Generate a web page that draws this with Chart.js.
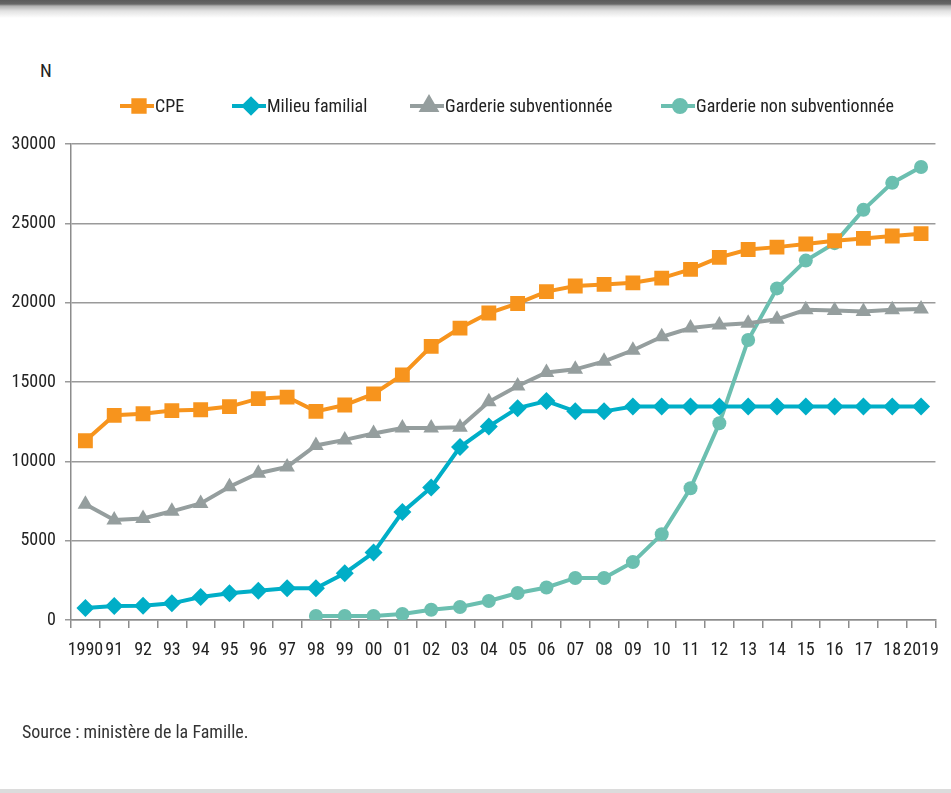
<!DOCTYPE html>
<html>
<head>
<meta charset="utf-8">
<script src="https://cdn.jsdelivr.net/npm/chart.js@4/dist/chart.umd.min.js"></script>
<style>
  body { margin: 0; background: #fff; width: 951px; height: 793px; overflow: hidden; position: relative;
         font-family: "Liberation Sans Narrow", "Roboto Condensed", "DejaVu Sans Condensed", sans-serif; }
  #topbar { position: absolute; left: 0; top: 0; width: 951px; height: 20px;
            background: linear-gradient(to bottom, #5a5a5a 0px, #666 4px, #b0b0b0 6px, #e2e2e2 11px, #ffffff 18px); }
  #botbar { position: absolute; left: 0; top: 789px; width: 951px; height: 4px; background: #dcdcdc; }
  #unit { position: absolute; left: 40px; top: 59px; font-size: 19px; color: #222; }
  #source { position: absolute; left: 22px; top: 721px; font-size: 18px; color: #333; }
  #wrap { position: absolute; left: 0; top: 0; width: 951px; height: 793px; }
</style>
</head>
<body>
<div id="topbar"></div>
<div id="unit">N</div>
<div id="wrap"><canvas id="garde"></canvas></div>
<div id="source">Source : ministère de la Famille.</div>
<div id="botbar"></div>
<script>
const annees = ["1990","91","92","93","94","95","96","97","98","99","00","01","02","03","04",
                "05","06","07","08","09","10","11","12","13","14","15","16","17","18","2019"];
const cpe = [11300,12900,13000,13200,13250,13450,13950,14050,13150,13550,14250,15450,17250,18400,19350,
             19950,20700,21050,21150,21250,21550,22100,22850,23350,23500,23700,23900,24050,24200,24350];
const milieuFamilial = [750,880,900,1050,1450,1680,1850,2000,2000,2950,4250,6800,8350,10900,12200,
                        13350,13800,13150,13150,13450,13450,13450,13450,13450,13450,13450,13450,13450,13450,13450];
const garderieSub = [7300,6300,6400,6850,7350,8400,9250,9650,11000,11350,11750,12100,12100,12150,13750,
                     14750,15600,15800,16300,17000,17850,18400,18600,18700,18950,19550,19500,19450,19550,19600];
const garderieNonSub = [null,null,null,null,null,null,null,null,250,250,250,380,650,820,1200,
                        1700,2050,2650,2650,3650,5400,8300,12400,17650,20900,22650,23750,25850,27550,28550];
const yTicks = [0,5000,10000,15000,20000,25000,30000];

const police = '"Liberation Sans Narrow", "Roboto Condensed", "DejaVu Sans Condensed", sans-serif';
const series = [
  { label: "CPE", data: cpe, color: "#f7941d", style: "rect", r: 10.5, lr: 8 },
  { label: "Milieu familial", data: milieuFamilial, color: "#00aec7", style: "rectRot", r: 9, lr: 7 },
  { label: "Garderie subventionnée", data: garderieSub, color: "#959e9e", style: "triangle", r: 9, lr: 8 },
  { label: "Garderie non subventionnée", data: garderieNonSub, color: "#6bbfb0", style: "circle", r: 7, lr: 6 }
];

// legende dessinee a la main : trait + marqueur
const legendePos = [120, 232, 410, 661];
const legende = {
  id: 'legende',
  afterDraw(chart) {
    const ctx = chart.ctx;
    ctx.save();
    ctx.font = '18px ' + police;
    ctx.textBaseline = 'middle';
    series.forEach(function (s, i) {
      const x = legendePos[i], y = 106;
      ctx.strokeStyle = s.color;
      ctx.lineWidth = 4;
      ctx.beginPath();
      ctx.moveTo(x, y);
      ctx.lineTo(x + 34, y);
      ctx.stroke();
      Chart.helpers.drawPoint(ctx, { pointStyle: s.style, radius: s.lr, borderWidth: 1 }, x + 19, y);
      ctx.fillStyle = s.color;
      ctx.fill();
      ctx.fillStyle = '#222';
      ctx.fillText(s.label, x + 35, y + 1);
    });
    ctx.restore();
  }
};

new Chart(document.getElementById('garde').getContext('2d'), {
  type: 'line',
  data: {
    labels: annees,
    datasets: series.map(function (s) {
      return {
        label: s.label,
        data: s.data,
        borderColor: s.color,
        backgroundColor: s.color,
        borderWidth: 4,
        pointStyle: s.style,
        pointRadius: s.r,
        pointBorderWidth: 0,
        tension: 0
      };
    })
  },
  options: {
    responsive: true,
    maintainAspectRatio: false,
    animation: false,
    layout: { padding: { top: 144, right: 9, left: 0, bottom: 0 } },
    plugins: { legend: { display: false }, tooltip: { enabled: false } },
    scales: {
      x: {
        offset: true,
        afterFit: function (scale) { scale.height = 173; },
        grid: { offset: true, drawOnChartArea: false, color: '#8c8c8c', lineWidth: 1.5, tickLength: 8 },
        border: { color: '#8c8c8c', width: 1.5 },
        ticks: { color: '#222', font: { size: 18, family: police }, padding: 12, maxRotation: 0, autoSkip: false }
      },
      y: {
        min: 0,
        max: 30000,
        afterFit: function (scale) { scale.width = 71; },
        afterBuildTicks: function (scale) { scale.ticks = yTicks.map(function (v) { return { value: v }; }); },
        grid: { color: '#9a9a9a', lineWidth: 1.5, tickLength: 6 },
        border: { color: '#8c8c8c', width: 1.5 },
        ticks: { color: '#222', font: { size: 18, family: police }, padding: 9, callback: function (v) { return String(v); } }
      }
    }
  },
  plugins: [legende]
});
</script>
</body>
</html>
